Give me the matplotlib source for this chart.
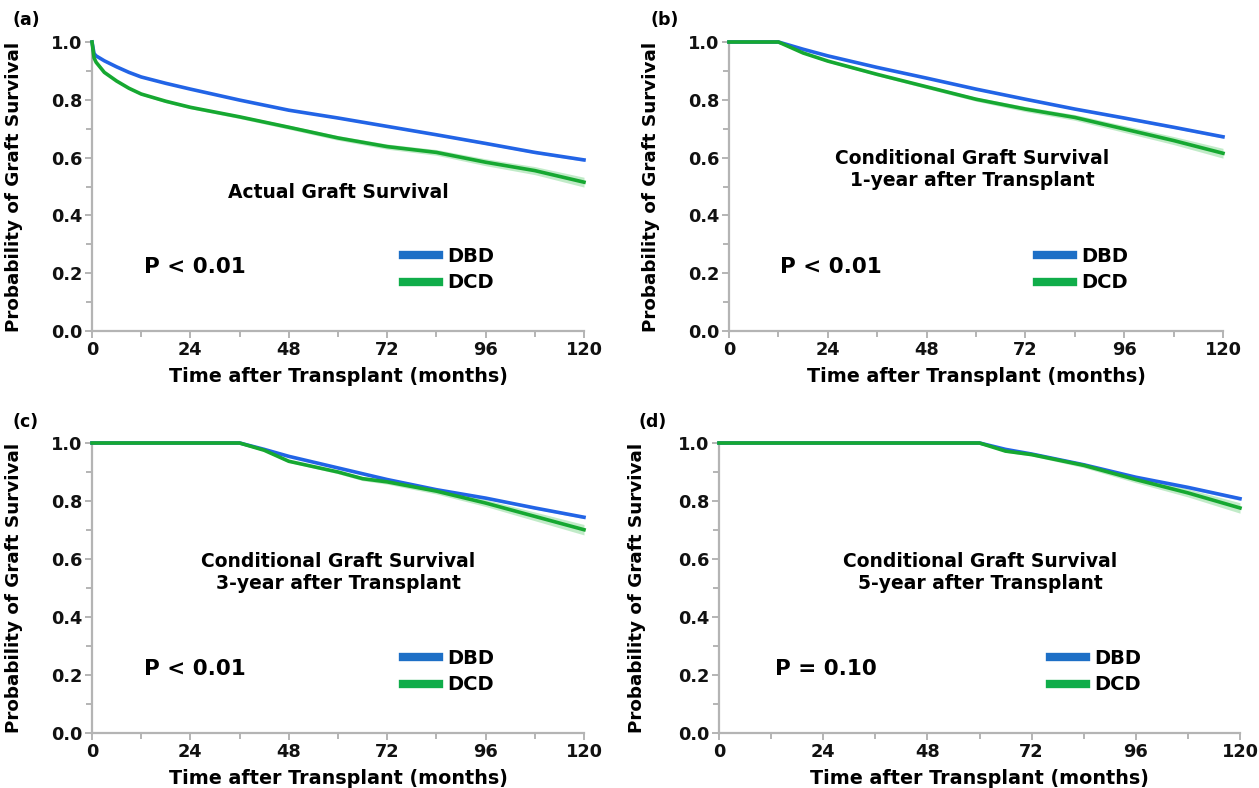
"""
plot.py

Kaplan-Meier style graft survival curves, DBD vs DCD, in four panels:
actual survival and conditional survival at 1, 3 and 5 years.
"""

import matplotlib
matplotlib.use("Agg")
import matplotlib.pyplot as plt
from matplotlib.lines import Line2D

# ─── Data ─────────────────────────────────────────────────────────────────────
# (a) actual graft survival
a_time = [0, 0.5, 1, 3, 6, 9, 12, 18, 24, 36, 48, 60, 72, 84, 96, 108, 120]
a_dbd  = [1.0, 0.96, 0.952, 0.935, 0.914, 0.895, 0.879, 0.857, 0.837, 0.799, 0.764, 0.737, 0.708, 0.679, 0.649, 0.618, 0.592]
a_dcd  = [1.0, 0.945, 0.93, 0.895, 0.865, 0.84, 0.82, 0.795, 0.774, 0.741, 0.705, 0.668, 0.638, 0.618, 0.584, 0.555, 0.515]
a_dbd_ci = [0.0, 0.001, 0.001, 0.001, 0.001, 0.001, 0.002, 0.002, 0.002, 0.002, 0.002, 0.003, 0.003, 0.003, 0.004, 0.004, 0.005]
a_dcd_ci = [0.0, 0.003, 0.003, 0.003, 0.004, 0.004, 0.004, 0.005, 0.005, 0.006, 0.007, 0.008, 0.009, 0.010, 0.012, 0.014, 0.017]

# (b) conditional, 1 year after transplant
b_time = [0, 12, 18, 24, 36, 48, 60, 72, 84, 96, 108, 120]
b_dbd  = [1.0, 1.0, 0.975, 0.952, 0.912, 0.875, 0.837, 0.802, 0.768, 0.737, 0.705, 0.672]
b_dcd  = [1.0, 1.0, 0.962, 0.934, 0.888, 0.845, 0.802, 0.768, 0.739, 0.699, 0.659, 0.615]
b_dbd_ci = [0.0, 0.0, 0.001, 0.001, 0.002, 0.002, 0.003, 0.003, 0.003, 0.004, 0.004, 0.005]
b_dcd_ci = [0.0, 0.0, 0.003, 0.004, 0.005, 0.006, 0.007, 0.009, 0.010, 0.012, 0.014, 0.017]

# (c) conditional, 3 years after transplant
c_time = [0, 36, 42, 48, 60, 66, 72, 84, 96, 108, 120]
c_dbd  = [1.0, 1.0, 0.978, 0.954, 0.914, 0.894, 0.874, 0.839, 0.810, 0.776, 0.744]
c_dcd  = [1.0, 1.0, 0.975, 0.937, 0.900, 0.877, 0.866, 0.834, 0.793, 0.747, 0.701]
c_dbd_ci = [0.0, 0.0, 0.001, 0.002, 0.002, 0.003, 0.003, 0.003, 0.004, 0.004, 0.005]
c_dcd_ci = [0.0, 0.0, 0.003, 0.004, 0.006, 0.007, 0.008, 0.010, 0.012, 0.015, 0.018]

# (d) conditional, 5 years after transplant
d_time = [0, 60, 66, 72, 84, 96, 108, 120]
d_dbd  = [1.0, 1.0, 0.978, 0.962, 0.925, 0.882, 0.847, 0.808]
d_dcd  = [1.0, 1.0, 0.972, 0.960, 0.923, 0.874, 0.828, 0.776]
d_dbd_ci = [0.0, 0.0, 0.002, 0.002, 0.003, 0.004, 0.005, 0.006]
d_dcd_ci = [0.0, 0.0, 0.004, 0.005, 0.008, 0.011, 0.014, 0.018]

panel_tags   = ["(a)", "(b)", "(c)", "(d)"]
panel_titles = [
    "Actual Graft Survival",
    "Conditional Graft Survival\n1-year after Transplant",
    "Conditional Graft Survival\n3-year after Transplant",
    "Conditional Graft Survival\n5-year after Transplant",
]
p_values = ["P < 0.01", "P < 0.01", "P < 0.01", "P = 0.10"]
groups   = ["DBD", "DCD"]
x_ticks  = [0, 24, 48, 72, 96, 120]
y_ticks  = [0.0, 0.2, 0.4, 0.6, 0.8, 1.0]

# ─── Style ────────────────────────────────────────────────────────────────────
W, H = 1259, 788
BLUE, GREEN = "#2264e6", "#16a831"
BAND_BLUE, BAND_GREEN = "#9dbcf5", "#8fdc9c"
LEG_BLUE, LEG_GREEN = "#1d6fc6", "#10ad4a"
AXIS_GREY = "#b4b4b4"

# axes rectangles in pixels: left, right, top (y=1), bottom (y=0)
boxes = [
    (92, 584, 42, 331),
    (729, 1223, 42, 331),
    (92, 584, 443, 733),
    (719, 1240, 443, 733),
]
tag_pos   = [(12, 20), (650, 20), (12, 422), (638, 422)]
title_pos = [(0.50, 0.478), (0.492, 0.559), (0.50, 0.553), (0.501, 0.553)]
p_pos     = [(0.106, 0.221), (0.103, 0.221), (0.106, 0.221), (0.107, 0.221)]
leg_pos   = [(0.632, 0.213), (0.623, 0.213), (0.632, 0.212), (0.635, 0.212)]

panels = [
    (a_time, a_dbd, a_dcd, a_dbd_ci, a_dcd_ci),
    (b_time, b_dbd, b_dcd, b_dbd_ci, b_dcd_ci),
    (c_time, c_dbd, c_dcd, c_dbd_ci, c_dcd_ci),
    (d_time, d_dbd, d_dcd, d_dbd_ci, d_dcd_ci),
]


def style_axes(ax):
    for side in ["top", "right"]:
        ax.spines[side].set_visible(False)
    for side in ["left", "bottom"]:
        ax.spines[side].set_color(AXIS_GREY)
        ax.spines[side].set_linewidth(1.6)
    ax.set_xlim(0, 120)
    ax.set_ylim(0, 1.0)
    ax.set_xticks(x_ticks)
    ax.set_xticks(range(12, 120, 24), minor=True)
    ax.set_yticks(y_ticks)
    ax.set_yticks([0.1, 0.3, 0.5, 0.7, 0.9], minor=True)
    ax.set_yticklabels([f"{v:.1f}" for v in y_ticks])
    ax.tick_params(which="both", direction="out", color=AXIS_GREY, width=1.4,
                   labelsize=12.8, labelcolor="#111111", pad=2)
    ax.tick_params(which="major", length=5)
    ax.tick_params(which="minor", length=4)
    for lab in ax.get_xticklabels() + ax.get_yticklabels():
        lab.set_fontweight("bold")
    ax.set_xlabel("Time after Transplant (months)", fontsize=13.8, fontweight="bold", labelpad=6)
    ax.set_ylabel("Probability of Graft Survival", fontsize=13.2, fontweight="bold")
    ax.yaxis.set_label_coords(-0.14, 0.5)


def main():
    fig = plt.figure(figsize=(W / 100, H / 100), dpi=100)

    for i, (t, dbd, dcd, dbd_ci, dcd_ci) in enumerate(panels):
        left, right, top, bottom = boxes[i]
        ax = fig.add_axes([left / W, 1 - bottom / H, (right - left) / W, (bottom - top) / H])
        style_axes(ax)

        # confidence bands
        ax.fill_between(t, [v - e for v, e in zip(dbd, dbd_ci)], [v + e for v, e in zip(dbd, dbd_ci)],
                        color=BAND_BLUE, alpha=0.6, linewidth=0)
        ax.fill_between(t, [v - e for v, e in zip(dcd, dcd_ci)], [v + e for v, e in zip(dcd, dcd_ci)],
                        color=BAND_GREEN, alpha=0.55, linewidth=0)

        ax.plot(t, dbd, color=BLUE, linewidth=2.6, clip_on=False, zorder=3)
        ax.plot(t, dcd, color=GREEN, linewidth=2.6, clip_on=False, zorder=4)

        ax.text(*title_pos[i], panel_titles[i], transform=ax.transAxes, ha="center", va="center",
                fontsize=13.5, fontweight="bold", linespacing=1.2)
        ax.text(*p_pos[i], p_values[i], transform=ax.transAxes, ha="left", va="center",
                fontsize=15.5, fontweight="bold")

        handles = [Line2D([], [], color=LEG_BLUE, linewidth=6),
                   Line2D([], [], color=LEG_GREEN, linewidth=6)]
        ax.legend(handles, groups, loc="center left", bbox_to_anchor=leg_pos[i],
                  frameon=False, borderpad=0, borderaxespad=0, handlelength=1.85,
                  handletextpad=0.45, labelspacing=0.4,
                  prop={"size": 14, "weight": "bold"})

        tx, ty = tag_pos[i]
        fig.text(tx / W, 1 - ty / H, panel_tags[i], ha="left", va="center",
                 fontsize=12.5, fontweight="bold")

    fig.savefig("out.png", dpi=100)


if __name__ == "__main__":
    main()
